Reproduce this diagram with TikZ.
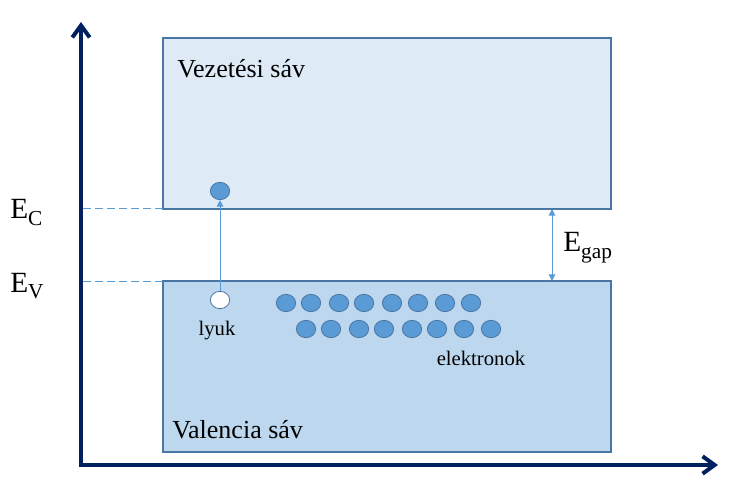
\documentclass[tikz,border=0pt]{standalone}
\usepackage{fontspec}
\setmainfont{Liberation Serif}
\usepackage{tikz}
\usetikzlibrary{arrows.meta,positioning,shapes.geometric}
\usepackage{xcolor}
\definecolor{axisblue}{HTML}{002060}
\definecolor{edgeblue}{HTML}{4A76A4}
\definecolor{condfill}{HTML}{DEEBF7}
\definecolor{valfill}{HTML}{BDD7EE}
\definecolor{dotblue}{HTML}{5B9BD5}
\definecolor{linkblue}{HTML}{5B9BD5}
\newcommand{\lowsub}[1]{\raisebox{-5pt}{\fontsize{16}{16}\selectfont #1}}
\tikzset{
  band/.style={draw=edgeblue, line width=0.8pt, anchor=north west, minimum width=336pt, minimum height=128.25pt, inner sep=0pt, outer sep=0pt},
  bandlabel/.style={anchor=base west, inner sep=0pt, font=\fontsize{19.5}{22}\selectfont},
  level/.style={anchor=base west, inner sep=0pt, font=\fontsize{22}{24}\selectfont},
  small/.style={anchor=base, inner sep=0pt, font=\fontsize{15.5}{18}\selectfont},
  electron/.style={ellipse, draw=edgeblue, fill=dotblue, line width=0.6pt, minimum width=14.5pt, minimum height=13pt, inner sep=0pt},
  hole/.style={electron, fill=white},
  axis/.style={{Straight Barb[length=9pt,width=13pt]}-{Straight Barb[length=9pt,width=13pt]}, line width=3pt, draw=axisblue, line join=miter},
  thinarrow/.style={-{Triangle[length=5pt,width=5pt]}, line width=0.75pt, draw=linkblue},
  gaparrow/.style={{Triangle[length=5pt,width=5pt]}-{Triangle[length=5pt,width=5pt]}, line width=0.75pt, draw=linkblue},
  levelline/.style={dash pattern=on 6pt off 3pt, line width=0.75pt, draw=linkblue}
}

\begin{document}
\begin{tikzpicture}[x=0.75pt, y=-0.75pt]
\useasboundingbox (0,0) rectangle (731,488);
% axes
\coordinate (origin) at (81,465);
\coordinate (ytip) at (81,22);
\coordinate (xtip) at (718,465);
\draw[axis] (ytip) -- (origin) -- (xtip);
% bands
\node[band, fill=condfill] (cb) at (163,38) {};
\node[band, fill=valfill] (vb) at (163,281) {};
\node[bandlabel] (cblabel) at (177,78) {Vezetési sáv};
\node[bandlabel] (vblabel) at (172,438) {Valencia sáv};
% band edges
\draw[levelline] (cb.south west) -- (cb.south west -| origin);
\draw[levelline] (vb.north west) -- (vb.north west -| origin);
\node[level] (ec) at (10,219) {E\lowsub{C}};
\node[level] (ev) at (10,292) {E\lowsub{V}};
% gap
\coordinate (gaptop) at (552,209);
\coordinate (gapbot) at (552,281);
\draw[gaparrow] (gaptop) -- (gapbot);
\node[level] (eg) at (563,252) {E\lowsub{gap}};
% excited electron and hole
\node[electron] (exc) at (220,191) {};
\node[hole] (hl) at (220,300) {};
\draw[thinarrow] (hl) -- (exc);
\node[small] (lyuk) at (217,335) {lyuk};
% electrons in the valence band
\foreach \x [count=\i] in {286,311,339,364,392,418,445,471}
  \node[electron] (upper\i) at (\x,303) {};
\foreach \x [count=\i] in {306,331,359,384,412,437,464,491}
  \node[electron] (lower\i) at (\x,329) {};
\node[small] (elek) at (481,365) {elektronok};
\end{tikzpicture}
\end{document}
